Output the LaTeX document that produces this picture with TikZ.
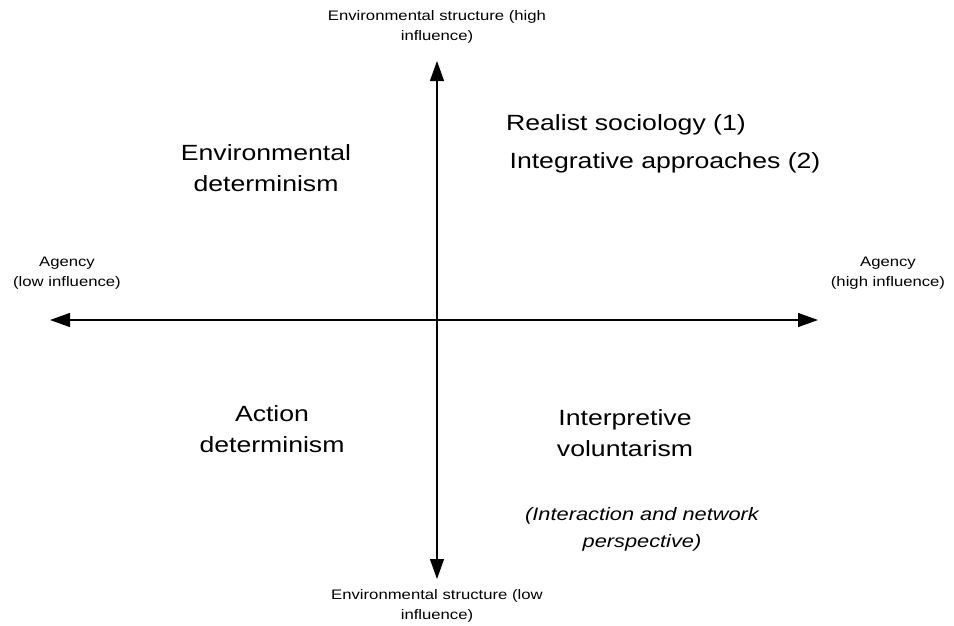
\documentclass[tikz,border=0pt]{standalone}
\usepackage{fontspec}
\setmainfont{Liberation Sans}[FakeStretch=1.21]
\usetikzlibrary{arrows.meta}
\begin{document}
\begin{tikzpicture}[x=1pt,y=-1pt,
  axis/.style={line width=1.3pt,{Triangle[length=20pt,width=14pt]}-{Triangle[length=20pt,width=14pt]}},
  small/.style={align=center,font=\fontsize{13.8}{19.5}\selectfont,inner sep=0pt},
  big/.style={align=center,font=\fontsize{22}{30.5}\selectfont,inner sep=0pt},
  ital/.style={align=center,font=\fontsize{18}{27}\selectfont\itshape,inner sep=0pt}]
\useasboundingbox (0,0) rectangle (954,625);
\coordinate (L) at (50,320);
\coordinate (R) at (818,320);
\coordinate (T) at (437,61);
\coordinate (B) at (437,579);
\draw[axis] (L) -- (R);
\draw[axis] (B) -- (T);
\node[small] (top) at (437,27) {Environmental structure (high\\influence)};
\node[small] (bot) at (437,606) {Environmental structure (low\\influence)};
\node[small] (al) at (67,273) {Agency\\(low influence)};
\node[small] (ah) at (888,273) {Agency\\(high influence)};
\node[big] (ed) at (266,168) {Environmental\\determinism};
\node[big] (rs) at (626,125) {Realist sociology (1)};
\node[big] (ia) at (665,163) {Integrative approaches (2)};
\node[big] (ad) at (272,429) {Action\\determinism};
\node[big] (iv) at (625,433) {Interpretive\\voluntarism};
\node[ital] (inp) at (642,529) {(Interaction and network\\perspective)};
\end{tikzpicture}
\end{document}
